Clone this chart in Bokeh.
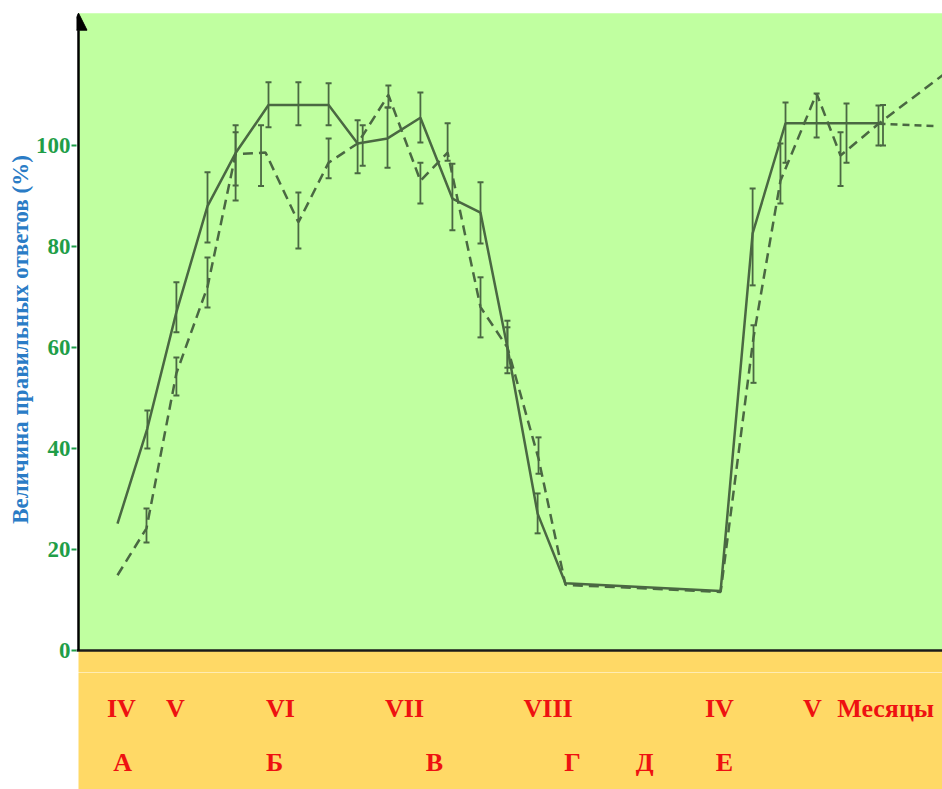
from bokeh.plotting import figure
from bokeh.layouts import column
from bokeh.models import (Range1d, BoxAnnotation, Span, Arrow, NormalHead, Whisker,
                          TeeHead, ColumnDataSource, FixedTicker)
from bokeh.core.properties import value
from bokeh.embed import file_html
from bokeh.resources import INLINE

# ---- data: time in weeks from the first session, response level in % ----
solid_x = [0.0, 1.0, 1.97, 3.01, 3.95, 5.05, 6.05, 7.06, 8.03, 9.03, 10.13, 11.2,
           12.14, 13.04, 14.05, 14.98, 20.17, 21.24, 22.34, 24.38, 25.45]
solid_y = [25.1, 44.0, 67.0, 88.0, 98.5, 108.0, 108.0, 108.0, 100.4, 101.4, 105.5, 89.5,
           86.7, 60.0, 27.1, 13.3, 11.8, 82.6, 104.4, 104.4, 104.4]

solid_err_x = [1.0, 1.97, 3.01, 3.95, 5.05, 6.05, 7.06, 8.03, 9.03, 10.13, 11.2, 12.14,
               13.04, 14.05, 21.24, 22.34, 24.38, 25.45]
solid_err_lo = [40.0, 63.0, 80.8, 92.1, 103.6, 104.0, 104.0, 94.5, 95.6, 100.6, 83.2, 80.6,
                54.9, 23.2, 72.3, 96.6, 96.6, 100.0]
solid_err_hi = [47.5, 72.9, 94.7, 102.6, 112.5, 112.5, 112.3, 105.0, 107.5, 110.5, 96.4, 92.7,
                65.3, 31.1, 91.5, 108.5, 108.3, 107.9]

dash_x = [0.0, 0.97, 1.97, 3.01, 3.95, 4.95, 6.05, 7.06, 8.03, 9.06, 10.13, 11.04, 12.14,
          13.04, 14.08, 14.98, 20.17, 21.27, 22.17, 23.38, 24.18, 25.45, 27.59]
dash_y = [14.9, 24.2, 54.9, 72.0, 98.3, 98.6, 84.8, 96.6, 100.4, 110.0, 93.0, 98.6, 68.0,
          60.0, 38.0, 13.0, 11.6, 62.0, 93.0, 110.3, 98.0, 104.3, 113.9]

dash_err_x = [0.97, 1.97, 3.01, 3.95, 4.8, 6.05, 7.06, 8.2, 9.06, 10.13, 11.04, 12.14,
              13.04, 14.08, 21.27, 22.17, 23.38, 24.18, 25.6]
dash_err_lo = [21.4, 50.5, 67.9, 89.1, 92.0, 79.6, 93.5, 96.0, 107.5, 88.5, 97.0, 62.0,
               56.0, 35.0, 53.0, 88.5, 101.6, 92.0, 100.0]
dash_err_hi = [28.1, 58.0, 77.8, 104.0, 104.0, 90.7, 101.4, 104.0, 111.9, 96.6, 104.4, 73.9,
               64.0, 42.2, 64.4, 100.4, 110.3, 102.6, 108.0]

tail_x = [25.45, 27.45]
tail_y = [104.3, 103.8]

y_ticks = [0, 20, 40, 60, 80, 100]
y_title = "Величина правильных ответов (%)"

month_labels = ["IV", "V", "VI", "VII", "VIII", "IV", "V", "Месяцы"]
month_pos = [0.13, 1.94, 5.45, 9.6, 14.4, 20.13, 23.24, 25.69]
stage_labels = ["А", "Б", "В", "Г", "Д", "Е"]
stage_pos = [0.17, 5.25, 10.6, 15.22, 17.63, 20.3]

# ---- styling ----
GREEN_BG = "#c0ffa0"
ORANGE_BG = "#ffd966"
LINE = "#4a6842"
TICK_GREEN = "#1f9e48"
RED = "#ee1111"
BLUE = "#2a7cc6"

X_START, X_END = -1.371, 27.59
AXIS_X = -1.304
Y_TOP = 127.52
Y_SPLIT = -4.356
Y_BOTTOM = -27.52
PLOT_TOP = 126.2

# ---- main chart ----
p = figure(width=942, height=672,
           x_range=Range1d(X_START, X_END), y_range=Range1d(Y_SPLIT, Y_TOP),
           output_backend="svg", toolbar_location=None,
           x_axis_location=None, y_axis_location="left",
           min_border_left=76, min_border_right=0, min_border_top=6, min_border_bottom=0)
p.background_fill_color = "white"
p.border_fill_color = "white"
p.outline_line_color = None
p.grid.visible = False

# green chart area above zero, orange band below (boxes run past the frame edges)
p.add_layout(BoxAnnotation(left=AXIS_X, right=X_END + 2, bottom=0, top=PLOT_TOP,
                           fill_color=GREEN_BG, fill_alpha=1, line_color=None,
                           level="underlay"))
p.add_layout(BoxAnnotation(left=AXIS_X, right=X_END + 2, top=0, bottom=Y_SPLIT - 3,
                           fill_color=ORANGE_BG, fill_alpha=1, line_color=None,
                           level="underlay"))

ax = p.yaxis[0]
ax.ticker = FixedTicker(ticks=y_ticks)
ax.axis_line_color = None
ax.major_tick_line_color = TICK_GREEN
ax.major_tick_line_width = 2
ax.major_tick_out = 5
ax.major_tick_in = 0
ax.minor_tick_line_color = None
ax.major_label_text_font = "Liberation Serif"
ax.major_label_text_font_style = "bold"
ax.major_label_text_font_size = "23px"
ax.major_label_text_color = TICK_GREEN
ax.major_label_standoff = 1
ax.axis_label = y_title
ax.axis_label_text_font = "Liberation Serif"
ax.axis_label_text_font_style = "bold"
ax.axis_label_text_font_size = "23px"
ax.axis_label_text_color = BLUE
ax.axis_label_standoff = 0

p.add_layout(Span(location=0, dimension="width", line_color="#1a1a1a", line_width=2.5))
p.add_layout(Arrow(end=NormalHead(size=17, fill_color="black", line_color="black"),
                   x_start=AXIS_X, y_start=0, x_end=AXIS_X, y_end=PLOT_TOP,
                   line_color="black", line_width=2.5))

p.line(solid_x, solid_y, line_color=LINE, line_width=2.5)
p.line(dash_x, dash_y, line_color=LINE, line_width=2.5, line_dash="10 6")
p.line(tail_x, tail_y, line_color=LINE, line_width=2.5, line_dash="7 5")


def add_errors(xs, lo, hi):
    src = ColumnDataSource(dict(x=xs, lo=lo, hi=hi))
    p.add_layout(Whisker(source=src, base="x", lower="lo", upper="hi",
                         line_color=LINE, line_width=1.8, level="glyph",
                         lower_head=TeeHead(size=6, line_color=LINE, line_width=2),
                         upper_head=TeeHead(size=6, line_color=LINE, line_width=2)))


add_errors(solid_err_x, solid_err_lo, solid_err_hi)
add_errors(dash_err_x, dash_err_lo, dash_err_hi)

# ---- month / stage band: same horizontal frame as the chart above ----
q = figure(width=942, height=117,
           x_range=Range1d(X_START, X_END), y_range=Range1d(Y_BOTTOM, Y_SPLIT),
           output_backend="svg", toolbar_location=None,
           x_axis_location=None, y_axis_location=None,
           min_border_left=76, min_border_right=0, min_border_top=0, min_border_bottom=0)
q.background_fill_color = "white"
q.border_fill_color = "white"
q.outline_line_color = None
q.grid.visible = False
q.add_layout(BoxAnnotation(left=AXIS_X, right=X_END + 2, bottom=Y_BOTTOM - 3,
                           top=Y_SPLIT + 3, fill_color=ORANGE_BG, fill_alpha=1,
                           line_color=None, level="underlay"))

month_src = ColumnDataSource(dict(x=month_pos, y=[-11.5] * len(month_pos), t=month_labels))
stage_src = ColumnDataSource(dict(x=stage_pos, y=[-22.1] * len(stage_pos), t=stage_labels))
for src in (month_src, stage_src):
    q.text(x="x", y="y", text="t", source=src, text_font=value("Liberation Serif"),
           text_font_style="bold", text_font_size="26px", text_color=RED,
           text_align="center", text_baseline="middle")

layout = column(p, q, spacing=0)
open("out.html", "w").write(file_html(layout, INLINE))
